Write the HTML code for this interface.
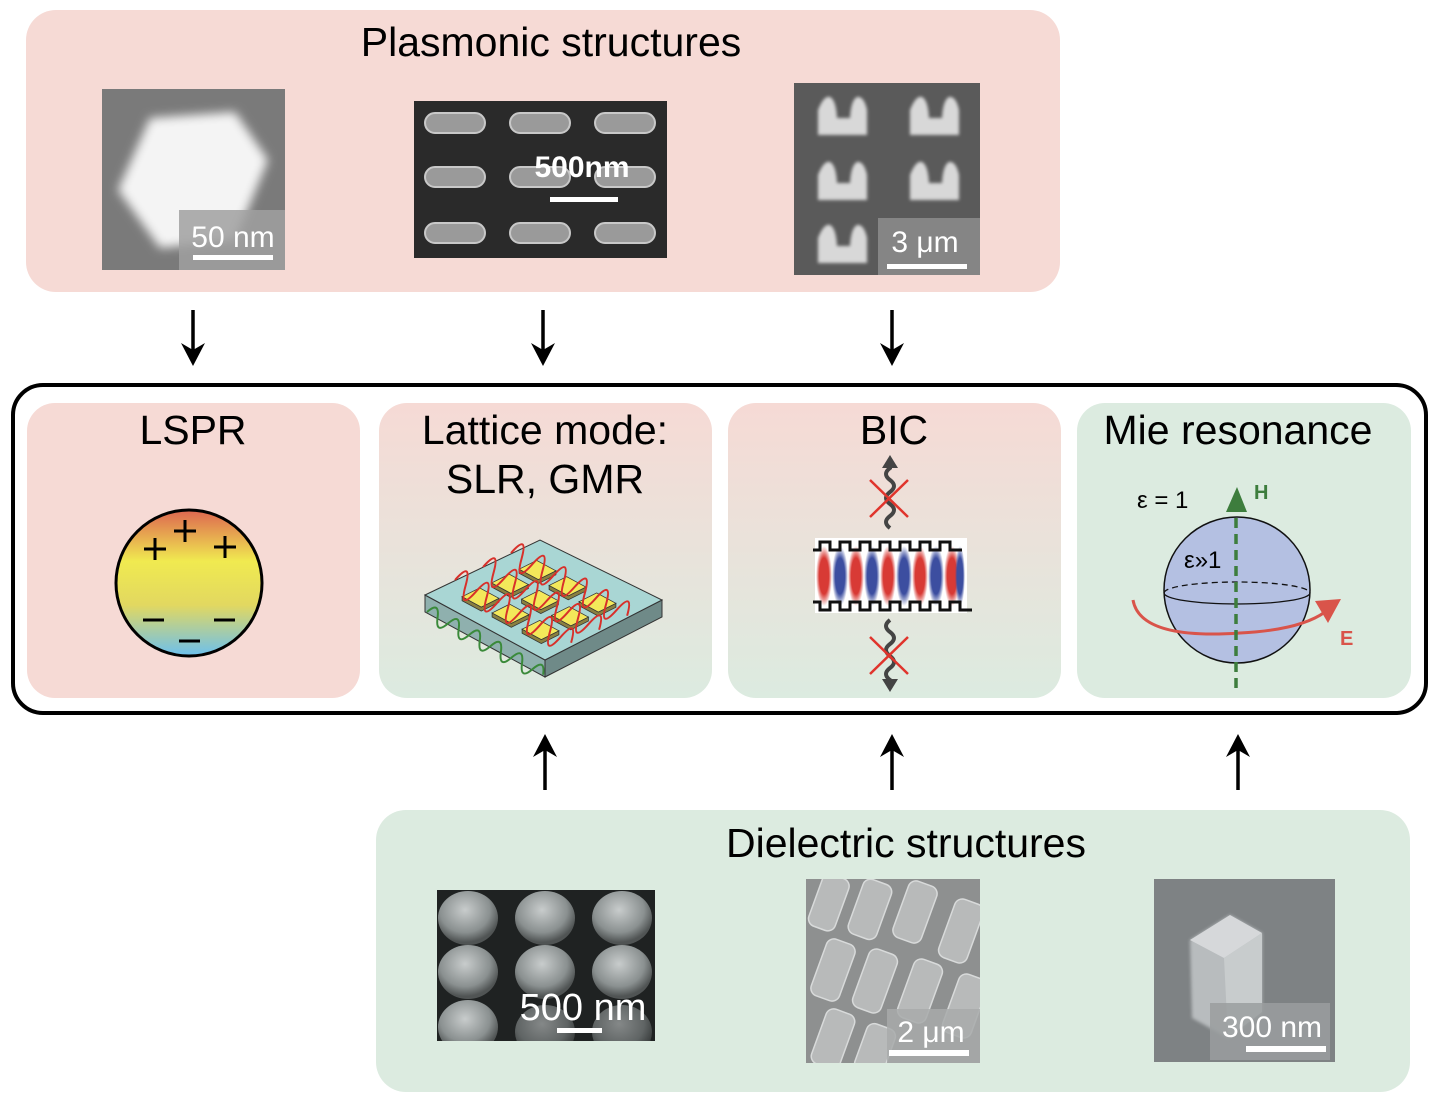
<!DOCTYPE html>
<html><head><meta charset="utf-8"><style>
html,body{margin:0;padding:0;background:#fff;}
svg{display:block;}
text{font-family:"Liberation Sans",Arial,sans-serif;}
</style></head><body>
<svg width="1440" height="1108" viewBox="0 0 1440 1108" xmlns="http://www.w3.org/2000/svg">
<defs>
<linearGradient id="pg" x1="0" y1="0" x2="0" y2="1"><stop offset="0" stop-color="#f6dad5"/><stop offset="1" stop-color="#dcebe0"/></linearGradient>
<linearGradient id="lspr" x1="0" y1="0" x2="0" y2="1"><stop offset="0" stop-color="#dd6650"/><stop offset="0.35" stop-color="#f0ea50"/><stop offset="0.65" stop-color="#e2d860"/><stop offset="1" stop-color="#6cc0ee"/></linearGradient>
<radialGradient id="red" cx="0.5" cy="0.5" r="0.5"><stop offset="0.6" stop-color="#d83a35"/><stop offset="1" stop-color="#d83a35" stop-opacity="0"/></radialGradient>
<radialGradient id="blue" cx="0.5" cy="0.5" r="0.5"><stop offset="0.6" stop-color="#3c4ea0"/><stop offset="1" stop-color="#3c4ea0" stop-opacity="0"/></radialGradient>
<radialGradient id="disk" cx="0.45" cy="0.35" r="0.6"><stop offset="0" stop-color="#c8cccc"/><stop offset="0.7" stop-color="#8a9090"/><stop offset="1" stop-color="#505454"/></radialGradient>
<filter id="bl"><feGaussianBlur stdDeviation="5"/></filter>
<filter id="bl2"><feGaussianBlur stdDeviation="1.5"/></filter>
<clipPath id="c1"><rect x="437" y="890" width="218" height="151"/></clipPath>
<clipPath id="c2"><rect x="806" y="879" width="174" height="184"/></clipPath>
<g id="pad"><polygon points="-18.4,-0.8 -18.4,3.2 0.8,13.6 18.4,4.8 18.4,0.8 0.8,9.6" fill="#8a8040" stroke="#333" stroke-width="0.8"/><polygon points="-18.4,-0.8 -0.8,-9.6 18.4,0.8 0.8,9.6" fill="#f3e85a" stroke="#333" stroke-width="0.8"/></g>
</defs>

<!-- top plasmonic box -->
<rect x="26" y="10" width="1034" height="282" rx="30" fill="#f6dad5"/>
<text x="551" y="56" font-size="41" text-anchor="middle">Plasmonic structures</text>

<!-- img1 -->
<rect x="102" y="89" width="183" height="181" fill="#7a7a7a"/>
<polygon points="150,118 235,112 268,160 235,240 160,248 118,190" fill="#f4f4f4" filter="url(#bl)"/>
<rect x="179" y="210" width="106" height="60" fill="#a0a0a0" opacity="0.85"/>
<text x="233" y="247" font-size="30" fill="#fff" text-anchor="middle">50 nm</text>
<rect x="193" y="255" width="80" height="5" fill="#fff"/>

<!-- img2 -->
<rect x="414" y="101" width="253" height="157" fill="#2a2a2a"/>
<g fill="#9a9a9a" stroke="#c8c8c8" stroke-width="2">
<rect x="425" y="113" width="60" height="20" rx="10"/><rect x="510" y="113" width="60" height="20" rx="10"/><rect x="595" y="113" width="60" height="20" rx="10"/>
<rect x="425" y="167" width="60" height="20" rx="10"/><rect x="510" y="167" width="60" height="20" rx="10"/><rect x="595" y="167" width="60" height="20" rx="10"/>
<rect x="425" y="223" width="60" height="20" rx="10"/><rect x="510" y="223" width="60" height="20" rx="10"/><rect x="595" y="223" width="60" height="20" rx="10"/>
</g>
<text x="582" y="177" font-size="30" font-weight="bold" fill="#fff" text-anchor="middle">500nm</text>
<rect x="550" y="197" width="68" height="5" fill="#fff"/>

<!-- img3 -->
<rect x="794" y="83" width="186" height="192" fill="#5a5a5a"/>
<g fill="#d8d8d8" filter="url(#bl2)">
<path d="M818 135 L818 110 Q824 95 830 97 Q836 100 837 118 L850 118 Q851 100 857 97 Q864 96 867 110 L867 135 Z"/>
<path d="M910 135 L910 110 Q916 95 922 97 Q928 100 929 118 L942 118 Q943 100 949 97 Q956 96 959 110 L959 135 Z"/>
<path d="M818 200 L818 175 Q824 160 830 162 Q836 165 837 183 L850 183 Q851 165 857 162 Q864 161 867 175 L867 200 Z"/>
<path d="M910 200 L910 175 Q916 160 922 162 Q928 165 929 183 L942 183 Q943 165 949 162 Q956 161 959 175 L959 200 Z"/>
<path d="M818 263 L818 238 Q824 223 830 225 Q836 228 837 246 L850 246 Q851 228 857 225 Q864 224 867 238 L867 263 Z"/>
</g>
<rect x="878" y="218" width="102" height="57" fill="#8a8a8a" opacity="0.9"/>
<text x="925" y="252" font-size="30" fill="#fff" text-anchor="middle">3 μm</text>
<rect x="887" y="264" width="80" height="5" fill="#fff"/>

<!-- down arrows -->
<g stroke="#000" stroke-width="3.5">
<line x1="193" y1="310" x2="193" y2="350"/><line x1="543" y1="310" x2="543" y2="350"/><line x1="892" y1="310" x2="892" y2="350"/>
</g>
<g fill="#000">
<path d="M181 343 L193 366 L205 343 L193 350Z"/><path d="M531 343 L543 366 L555 343 L543 350Z"/><path d="M880 343 L892 366 L904 343 L892 350Z"/>
</g>

<!-- main frame -->
<rect x="13" y="385" width="1413" height="328" rx="30" fill="#fff" stroke="#000" stroke-width="4"/>
<rect x="27" y="403" width="333" height="295" rx="28" fill="#f6dad5"/>
<rect x="379" y="403" width="333" height="295" rx="28" fill="url(#pg)"/>
<rect x="728" y="403" width="333" height="295" rx="28" fill="url(#pg)"/>
<rect x="1077" y="403" width="334" height="295" rx="28" fill="#dcebe0"/>

<text x="193" y="444" font-size="41" text-anchor="middle">LSPR</text>
<text x="545" y="444" font-size="41" text-anchor="middle">Lattice mode:</text>
<text x="545" y="493" font-size="41" text-anchor="middle">SLR, GMR</text>
<text x="894" y="444" font-size="41" text-anchor="middle">BIC</text>
<text x="1238" y="444" font-size="41" text-anchor="middle">Mie resonance</text>

<!-- LSPR -->
<circle cx="189" cy="583" r="73" fill="url(#lspr)" stroke="#000" stroke-width="3"/>
<g stroke="#000" stroke-width="3">
<path d="M144 549h22M155 538v22"/><path d="M174 531h22M185 520v22"/><path d="M214 547h22M225 536v22"/>
<path d="M143 620h21M214 620h21M179 641h21"/>
</g>

<!-- Lattice -->
<polygon points="425,595 425,612 545,677 545,660" fill="#8fb0ae" stroke="#333" stroke-width="1"/>
<polygon points="545,660 545,677 662,617 662,600" fill="#6f8a88" stroke="#333" stroke-width="1"/>
<polygon points="425,595 540,540 662,600 545,660" fill="#a9d6d4" stroke="#333" stroke-width="1"/>
<use href="#pad" x="537.5" y="570"/><use href="#pad" x="567.5" y="586.25"/><use href="#pad" x="597.5" y="602.5"/>
<use href="#pad" x="510" y="583.75"/><use href="#pad" x="540" y="600"/><use href="#pad" x="570" y="616.25"/>
<use href="#pad" x="480.5" y="597.5"/><use href="#pad" x="510.5" y="613.75"/><use href="#pad" x="540.5" y="630"/>
<g fill="none" stroke="#d8302a" stroke-width="2">
<path transform="translate(455,580) rotate(28.4)" d="M0 0 q6 -26 12 0 t12 0 t12 0 t12 0 t12 0 t12 0 t12 0 t12 0 t12 0 t12 0 t12 0"/>
<path transform="translate(483,567) rotate(28.4)" d="M0 0 q6 -26 12 0 t12 0 t12 0 t12 0 t12 0 t12 0 t12 0 t12 0 t12 0 t12 0 t12 0"/>
<path transform="translate(511,553) rotate(28.4)" d="M0 0 q6 -26 12 0 t12 0 t12 0 t12 0 t12 0 t12 0 t12 0 t12 0 t12 0 t12 0 t12 0"/>
</g>
<path transform="translate(427,612) rotate(28.4)" fill="none" stroke="#3a8a3a" stroke-width="2" d="M0 0 q6 -16 12 0 t12 0 t12 0 t12 0 t12 0 t12 0 t12 0 t12 0 t12 0 t12 0 t12 0"/>

<!-- BIC -->
<rect x="815" y="538" width="152" height="75" fill="#fff"/>
<g>
<ellipse cx="824" cy="576" rx="8" ry="30" fill="url(#red)"/><ellipse cx="840" cy="576" rx="8" ry="30" fill="url(#blue)"/>
<ellipse cx="856" cy="576" rx="8" ry="30" fill="url(#red)"/><ellipse cx="872" cy="576" rx="8" ry="30" fill="url(#blue)"/>
<ellipse cx="888" cy="576" rx="8" ry="30" fill="url(#red)"/><ellipse cx="904" cy="576" rx="8" ry="30" fill="url(#blue)"/>
<ellipse cx="920" cy="576" rx="8" ry="30" fill="url(#red)"/><ellipse cx="936" cy="576" rx="8" ry="30" fill="url(#blue)"/>
<ellipse cx="952" cy="576" rx="8" ry="30" fill="url(#red)"/><ellipse cx="960" cy="576" rx="5" ry="30" fill="url(#blue)"/>
</g>
<g fill="none" stroke="#111" stroke-width="3">
<path d="M813 550 h7 v-8 h10 v8 h10 v-8 h10 v8 h10 v-8 h10 v8 h10 v-8 h10 v8 h10 v-8 h10 v8 h10 v-8 h10 v8 h10 v-8 h10 v8 h12"/>
<path d="M813 602 h7 v8 h10 v-8 h10 v8 h10 v-8 h10 v8 h10 v-8 h10 v8 h10 v-8 h10 v8 h10 v-8 h10 v8 h10 v-8 h10 v8 h10 v-8 h10 v8 h12"/>
</g>
<g fill="none" stroke="#444" stroke-width="4">
<path d="M890 528 q-8 -6 0 -12 q8 -6 0 -12 q-8 -6 0 -12 q8 -6 0 -12 q-8 -6 0 -12 v-5"/>
<path d="M890 620 q-8 6 0 12 q8 6 0 12 q-8 6 0 12 q8 6 0 12 q-8 6 0 12 v3"/>
</g>
<path d="M882 468 L890 455 L898 468Z" fill="#444"/>
<path d="M882 679 L890 692 L898 679Z" fill="#444"/>
<g stroke="#e0342c" stroke-width="2.5">
<path d="M870 480 L908 517 M908 480 L870 517"/>
<path d="M870 637 L908 674 M908 637 L870 674"/>
</g>

<!-- Mie -->
<text x="1137" y="508" font-size="24">ε = 1</text>
<circle cx="1237" cy="590" r="73" fill="#b4c0e2" stroke="#111" stroke-width="1.5"/>
<path d="M1164 593 A73 11 0 0 1 1310 593" fill="none" stroke="#111" stroke-width="1.3" stroke-dasharray="6,4"/>
<path d="M1164 593 A73 11 0 0 0 1310 593" fill="none" stroke="#111" stroke-width="1.3"/>
<text x="1184" y="568" font-size="24">ε»1</text>
<path d="M1133 600 Q1140 640 1240 633 Q1300 630 1325 612" fill="none" stroke="#d9544a" stroke-width="3"/>
<path d="M1315 601 L1341 599 L1328 623Z" fill="#d9544a"/>
<text x="1340" y="645" font-size="20" font-weight="bold" fill="#d9544a">E</text>
<line x1="1236" y1="688" x2="1236" y2="510" stroke="#3d7d3d" stroke-width="3.5" stroke-dasharray="10,6"/>
<path d="M1226 512 L1237 487 L1247 512Z" fill="#3d7d3d"/>
<text x="1254" y="499" font-size="20" font-weight="bold" fill="#3d7d3d">H</text>

<!-- up arrows -->
<g stroke="#000" stroke-width="3.5">
<line x1="545" y1="790" x2="545" y2="750"/><line x1="892" y1="790" x2="892" y2="750"/><line x1="1238" y1="790" x2="1238" y2="750"/>
</g>
<g fill="#000">
<path d="M533 757 L545 734 L557 757 L545 750Z"/><path d="M880 757 L892 734 L904 757 L892 750Z"/><path d="M1226 757 L1238 734 L1250 757 L1238 750Z"/>
</g>

<!-- bottom dielectric -->
<rect x="376" y="810" width="1034" height="282" rx="30" fill="#dcebe0"/>
<text x="906" y="857" font-size="41" text-anchor="middle">Dielectric structures</text>

<!-- img d1 -->
<rect x="437" y="890" width="218" height="151" fill="#1f2222"/>
<g fill="url(#disk)" clip-path="url(#c1)">
<ellipse cx="468" cy="918" rx="30" ry="27"/><ellipse cx="545" cy="918" rx="30" ry="27"/><ellipse cx="622" cy="918" rx="30" ry="27"/>
<ellipse cx="468" cy="972" rx="30" ry="27"/><ellipse cx="545" cy="972" rx="30" ry="27"/><ellipse cx="622" cy="972" rx="30" ry="27"/>
<ellipse cx="468" cy="1027" rx="30" ry="27"/><ellipse cx="545" cy="1032" rx="30" ry="27" opacity="0.6"/><ellipse cx="622" cy="1032" rx="30" ry="27" opacity="0.6"/>
</g>
<text x="583" y="1020" font-size="38" fill="#fff" text-anchor="middle">500 nm</text>
<rect x="557" y="1028" width="45" height="5" fill="#fff"/>

<!-- img d2 -->
<rect x="806" y="879" width="174" height="184" fill="#8e9090"/>
<g fill="#b8baba" stroke="#d8dada" stroke-width="1.5" clip-path="url(#c2)">
<rect x="815" y="875" width="28" height="55" rx="8" transform="rotate(20 829 902)"/>
<rect x="855" y="880" width="30" height="58" rx="8" transform="rotate(20 869 909)"/>
<rect x="900" y="882" width="30" height="60" rx="8" transform="rotate(20 915 912)"/>
<rect x="946" y="900" width="30" height="62" rx="8" transform="rotate(20 961 931)"/>
<rect x="818" y="940" width="30" height="60" rx="8" transform="rotate(20 833 970)"/>
<rect x="860" y="950" width="30" height="62" rx="8" transform="rotate(20 875 981)"/>
<rect x="905" y="960" width="30" height="62" rx="8" transform="rotate(20 920 991)"/>
<rect x="950" y="975" width="30" height="62" rx="8" transform="rotate(20 965 1006)"/>
<rect x="818" y="1010" width="30" height="58" rx="8" transform="rotate(20 833 1039)"/>
<rect x="860" y="1025" width="30" height="50" rx="8" transform="rotate(20 875 1050)"/>
</g>
<rect x="887" y="1009" width="93" height="54" fill="#a8aaaa" opacity="0.85"/>
<text x="931" y="1042" font-size="30" fill="#fff" text-anchor="middle">2 μm</text>
<rect x="889" y="1050" width="80" height="6" fill="#fff"/>

<!-- img d3 -->
<rect x="1154" y="879" width="181" height="183" fill="#7e8284"/>
<polygon points="1190,940 1230,915 1262,933 1262,1012 1228,1038 1192,1018" fill="#b8bcbe" filter="url(#bl2)"/>
<polygon points="1190,940 1230,915 1262,933 1224,958" fill="#d6d8da"/>
<polygon points="1224,958 1262,933 1262,1012 1228,1038" fill="#c8cccd"/>
<rect x="1210" y="1003" width="120" height="57" fill="#9a9e9f" opacity="0.85"/>
<text x="1272" y="1037" font-size="30" fill="#fff" text-anchor="middle">300 nm</text>
<rect x="1246" y="1046" width="80" height="6" fill="#fff"/>
</svg>
</body></html>
